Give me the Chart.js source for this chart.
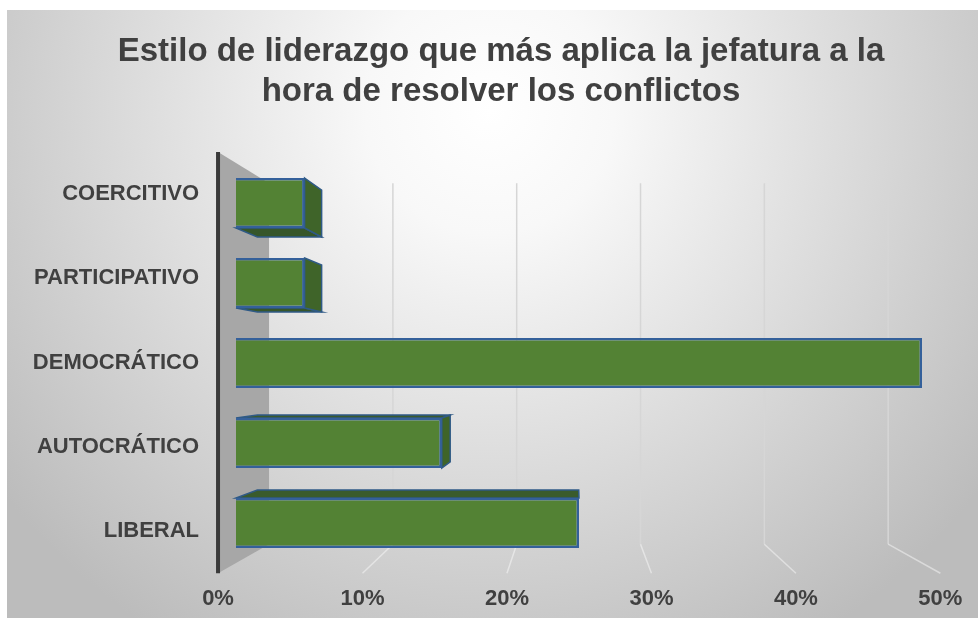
<!DOCTYPE html>
<html lang="es">
<head>
<meta charset="utf-8">
<title>Estilo de liderazgo</title>
<script src="https://cdn.jsdelivr.net/npm/chart.js@4.4.1/dist/chart.umd.min.js"></script>
<style>
    html, body { margin: 0; padding: 0; background: #ffffff; }
    #wrap { position: relative; width: 978px; height: 618px; }
</style>
</head>
<body>
<div id="wrap"><canvas id="chart"></canvas></div>
<script>
// Values
const categories = ['COERCITIVO', 'PARTICIPATIVO', 'DEMOCRÁTICO', 'AUTOCRÁTICO', 'LIBERAL'];
const percentages = [5, 5, 50, 15, 25];
const tickValues = [0, 10, 20, 30, 40, 50];
const titleLines = ['Estilo de liderazgo que más aplica la jefatura a la', 'hora de resolver los conflictos'];

const FONT = "'Liberation Sans', Arial, sans-serif";
const TEXT = '#404040';

// Fake Excel 3D look: one vanishing point, depths relative to the bars' front plane
const VP = { x: 575, y: 370 };
const DEPTH = { floorFront: 1.053, wall: 0.9025, barBack: 0.937 };

function project(x, y, k) {
    return { x: VP.x + (x - VP.x) * k, y: VP.y + (y - VP.y) * k };
}

function polygon(ctx, pts, fill, stroke, lw) {
    ctx.beginPath();
    ctx.moveTo(pts[0].x, pts[0].y);
    pts.slice(1).forEach(p => ctx.lineTo(p.x, p.y));
    ctx.closePath();
    if (fill) { ctx.fillStyle = fill; ctx.fill(); }
    if (stroke) { ctx.strokeStyle = stroke; ctx.lineWidth = lw || 1; ctx.stroke(); }
}

function line(ctx, a, b, color, lw) {
    ctx.beginPath();
    ctx.moveTo(a.x, a.y);
    ctx.lineTo(b.x, b.y);
    ctx.strokeStyle = color;
    ctx.lineWidth = lw;
    ctx.stroke();
}

// grey radial backdrop like the Excel chart area
const backdrop = {
    id: 'backdrop',
    beforeDraw(chart) {
        const { ctx, width, height } = chart;
        ctx.save();
        ctx.fillStyle = '#ffffff';
        ctx.fillRect(0, 0, width, height);
        const g = ctx.createRadialGradient(490, 110, 0, 490, 110, 620);
        g.addColorStop(0, '#ffffff');
        g.addColorStop(0.2, '#f8f8f8');
        g.addColorStop(1, '#bcbcbc');
        ctx.fillStyle = g;
        ctx.fillRect(7, 10, width - 7, height - 10);
        ctx.restore();
    }
};

// walls, gridlines and bar extrusions
const scene3d = {
    id: 'scene3d',
    beforeDatasetsDraw(chart) {
        const { ctx, chartArea: a, scales: { x } } = chart;
        ctx.save();

        // gridlines on back wall, then faintly across the floor
        x.ticks.forEach(t => {
            if (t.value === 0) return;
            const px = x.getPixelForValue(t.value);
            const top = project(px, a.top, DEPTH.wall);
            const bot = project(px, a.bottom, DEPTH.wall);
            const front = project(px, a.bottom, DEPTH.floorFront);
            line(ctx, top, bot, '#d6d6d6', 1.5);
            line(ctx, bot, front, 'rgba(255,255,255,0.45)', 1.5);
        });

        // left side wall
        const ft = project(a.left, a.top, DEPTH.floorFront);
        const fb = project(a.left, a.bottom, DEPTH.floorFront);
        const bt = project(a.left, a.top, DEPTH.wall);
        const bb = project(a.left, a.bottom, DEPTH.wall);
        polygon(ctx, [ft, bt, bb, fb], '#a7a7a7');
        line(ctx, ft, fb, '#3a3a3a', 4);

        // extruded faces behind each bar's front face
        const meta = chart.getDatasetMeta(0);
        meta.data.forEach(bar => {
            const { x: xe, y, base, height } = bar.getProps(['x', 'y', 'base', 'height'], true);
            const left = Math.min(base, xe), right = Math.max(base, xe);
            const top = y - height / 2, bottom = y + height / 2;
            const k = DEPTH.barBack;
            const edge = '#2f5a86';
            if (bottom < VP.y) {
                polygon(ctx, [project(left, bottom, 1), project(right, bottom, 1),
                    project(right, bottom, k), project(left, bottom, k)], '#36562a', edge, 1.5);
            }
            if (top > VP.y) {
                polygon(ctx, [project(left, top, 1), project(right, top, 1),
                    project(right, top, k), project(left, top, k)], '#3a5b2c', edge, 1.5);
            }
            if (right < VP.x) {
                polygon(ctx, [project(right, top, 1), project(right, top, k),
                    project(right, bottom, k), project(right, bottom, 1)], '#3f6429', edge, 1.5);
            }
        });
        ctx.restore();
    },
    afterDraw(chart) {
        const { ctx, chartArea: a, scales: { x, y } } = chart;
        ctx.save();
        ctx.font = `bold 22px ${FONT}`;
        ctx.fillStyle = TEXT;

        // category labels sit at the front edge of the floor
        ctx.textAlign = 'right';
        ctx.textBaseline = 'middle';
        chart.data.labels.forEach((lab, i) => {
            const p = project(a.left, y.getPixelForValue(i), DEPTH.floorFront);
            ctx.fillText(lab, p.x - 19, p.y);
        });

        // percentage ticks along the front floor edge
        ctx.textAlign = 'center';
        x.ticks.forEach(t => {
            const p = project(x.getPixelForValue(t.value), a.bottom, DEPTH.floorFront);
            ctx.fillText(t.value + '%', p.x, p.y + 26);
        });
        ctx.restore();
    }
};

new Chart(document.getElementById('chart'), {
    type: 'bar',
    data: {
        labels: categories,
        datasets: [{
            data: percentages,
            backgroundColor: '#538234',
            borderColor: '#34609a',
            borderWidth: 2.5,
            categoryPercentage: 1,
            barPercentage: 0.625
        }]
    },
    options: {
        indexAxis: 'y',
        responsive: true,
        maintainAspectRatio: false,
        animation: false,
        layout: { padding: { left: 80, right: 56, top: 0, bottom: 0 } },
        plugins: {
            legend: { display: false },
            tooltip: { enabled: false },
            title: {
                display: true,
                text: titleLines,
                color: TEXT,
                font: { family: FONT, size: 33, weight: 'bold', lineHeight: 1.22 },
                padding: { top: 32, bottom: 50.5 }
            }
        },
        scales: {
            x: {
                min: tickValues[0],
                max: tickValues[tickValues.length - 1],
                ticks: { stepSize: tickValues[1] - tickValues[0], display: false },
                grid: { display: false },
                border: { display: false },
                afterFit(s) { s.height = 55; }
            },
            y: {
                ticks: { display: false },
                grid: { display: false },
                border: { display: false },
                afterFit(s) { s.width = 156; }
            }
        }
    },
    plugins: [backdrop, scene3d]
});
</script>
</body>
</html>
